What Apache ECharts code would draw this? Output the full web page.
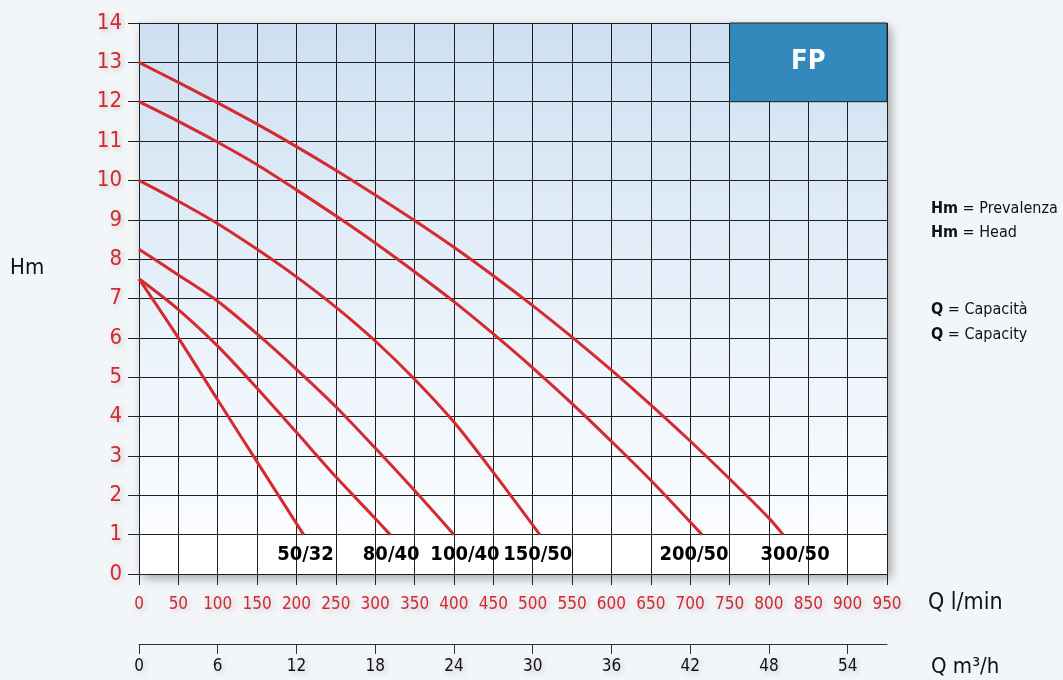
<!DOCTYPE html>
<html>
<head>
<meta charset="utf-8">
<script src="https://cdn.jsdelivr.net/npm/echarts@6/dist/echarts.min.js"></script>
<style>
html,body{margin:0;padding:0;background:#f3f6f9;}
#c{width:1063px;height:680px;}
</style>
</head>
<body>
<div id="c"></div>
<script>
// ---- data ----
const seriesNames = ['50/32', '80/40', '100/40', '150/50', '200/50', '300/50'];
const curve_50_32  = [[0,7.5],[50,6.0],[100,4.42],[150,2.85],[209,1]];
const curve_80_40  = [[0,7.5],[50,6.72],[100,5.79],[150,4.72],[200,3.6],[250,2.47],[300,1.41],[319,1]];
const curve_100_40 = [[0,8.25],[50,7.6],[100,6.93],[150,6.1],[200,5.2],[250,4.25],[300,3.2],[350,2.12],[400,1]];
const curve_150_50 = [[0,10],[50,9.47],[100,8.9],[150,8.25],[200,7.55],[250,6.78],[300,5.92],[350,4.95],[400,3.86],[450,2.58],[509,1]];
const curve_200_50 = [[0,12],[50,11.5],[100,10.97],[150,10.4],[200,9.76],[250,9.1],[300,8.41],[350,7.68],[400,6.92],[450,6.1],[500,5.24],[550,4.33],[600,3.37],[650,2.38],[715,1]];
const curve_300_50 = [[0,13],[50,12.49],[100,11.97],[150,11.43],[200,10.86],[250,10.26],[300,9.63],[350,8.98],[400,8.3],[450,7.58],[500,6.82],[550,6.02],[600,5.18],[650,4.3],[700,3.38],[750,2.42],[800,1.42],[818,1]];
const curves = [curve_50_32, curve_80_40, curve_100_40, curve_150_50, curve_200_50, curve_300_50];
const m3hTicks = [0, 6, 12, 18, 24, 30, 36, 42, 48, 54];
const fpBox = {x: [750, 950], y: [12, 14], text: 'FP'};
const legendLines = [['Hm', ' = Prevalenza'], ['Hm', ' = Head'], ['Q', ' = Capacità'], ['Q', ' = Capacity']];

// ---- style ----
const FONT = "'Liberation Sans Narrow','DejaVu Sans Condensed','Roboto Condensed',Roboto,sans-serif";
const RED = '#d5282f';
const LINE_RED = '#d42a30';
const labelDx = [2, 1, 11, -2, -8, 12];
const shadowTxt = {textShadowColor: 'rgba(0,0,0,0.18)', textShadowBlur: 5, textShadowOffsetX: 2, textShadowOffsetY: 2};

const chart = echarts.init(document.getElementById('c'));

const lineSeries = curves.map((c, i) => ({
  name: seriesNames[i],
  type: 'line',
  data: c,
  smooth: 0.3,
  showSymbol: false,
  symbol: 'none',
  lineStyle: {color: LINE_RED, width: 3},
  z: 5,
  silent: true
}));

const labelSeries = {
  type: 'scatter',
  symbolSize: 0,
  z: 6,
  silent: true,
  itemStyle: {opacity: 1},
  data: curves.map((c, i) => ({
    value: c[c.length - 1],
    label: {
      show: true,
      position: 'bottom',
      distance: 10,
      offset: [labelDx[i], 0],
      formatter: seriesNames[i],
      fontFamily: FONT,
      fontWeight: 'bold',
      fontSize: 20,
      color: '#000',
      opacity: 1
    }
  }))
};

const fpSeries = {
  type: 'line',
  data: [],
  silent: true,
  markArea: {
    silent: true,
    itemStyle: {color: '#3389bb', opacity: 1, borderWidth: 1, borderColor: '#222'},
    label: {show: true, position: 'inside', color: '#fff', fontWeight: 'bold', fontSize: 27, fontFamily: FONT},
    data: [[{xAxis: fpBox.x[0], yAxis: fpBox.y[0], name: fpBox.text}, {xAxis: fpBox.x[1], yAxis: fpBox.y[1]}]]
  },
  z: 4
};

const bg = new echarts.graphic.LinearGradient(0, 0, 0, 1, [
  {offset: 0, color: '#cde0f1'},
  {offset: 0.5, color: '#e7f0f9'},
  {offset: 0.928, color: '#fbfdff'},
  {offset: 0.929, color: '#ffffff'},
  {offset: 1, color: '#ffffff'}
]);

const legendGraphics = legendLines.map((l, i) => ({
  type: 'text',
  left: 931,
  top: [201, 225, 302, 327][i],
  style: {
    text: '{b|' + l[0] + '}{n|' + l[1] + '}',
    rich: {
      b: {fontFamily: FONT, fontWeight: 'bold', fontSize: 16, fill: '#111', color: '#111'},
      n: {fontFamily: FONT, fontSize: 16, fill: '#111', color: '#111'}
    }
  }
}));

const option = {
  backgroundColor: '#f3f6f9',
  animation: false,
  grid: {
    left: 139, right: 176, top: 23, bottom: 106,
    show: true,
    backgroundColor: bg,
    borderWidth: 0,
    shadowColor: 'rgba(0,0,0,0.35)',
    shadowBlur: 10,
    shadowOffsetX: 4,
    shadowOffsetY: 4
  },
  xAxis: [
    {
      type: 'value', min: 0, max: 950, interval: 50,
      axisLine: {show: true, onZero: false, lineStyle: {color: '#222', width: 1}},
      axisTick: {show: true, length: 11, lineStyle: {color: '#222'}},
      axisLabel: Object.assign({color: RED, fontSize: 17, margin: 22, fontFamily: FONT}, shadowTxt),
      splitLine: {show: true, lineStyle: {color: '#1e1e1e', width: 1}}
    },
    {
      type: 'value', min: 0, max: 57, position: 'bottom', offset: 70,
      axisLine: {show: true, onZero: false, lineStyle: {color: '#333', width: 1}},
      axisTick: {show: true, length: 10, lineStyle: {color: '#333'}, customValues: m3hTicks},
      axisLabel: Object.assign({color: '#111', fontSize: 17, margin: 14, fontFamily: FONT, customValues: m3hTicks}, shadowTxt),
      splitLine: {show: false}
    }
  ],
  yAxis: {
    type: 'value', min: 0, max: 14, interval: 1,
    axisLine: {show: true, onZero: false, lineStyle: {color: '#222', width: 1}},
    axisTick: {show: true, length: 11, lineStyle: {color: '#222'}},
    axisLabel: Object.assign({color: RED, fontSize: 22, margin: 17, fontFamily: FONT}, shadowTxt),
    splitLine: {show: true, lineStyle: {color: '#1e1e1e', width: 1}}
  },
  graphic: [
    {type: 'text', left: 10, top: 257, style: {text: 'Hm', font: '22px ' + FONT, fill: '#111'}},
    {type: 'text', left: 928, top: 592, style: {text: 'Q l/min', font: '23px ' + FONT, fill: '#111'}},
    {type: 'text', left: 931, top: 656, style: {text: 'Q m³/h', font: '22px ' + FONT, fill: '#111'}}
  ].concat(legendGraphics),
  series: lineSeries.concat([labelSeries, fpSeries])
};

chart.setOption(option);
</script>
</body>
</html>
